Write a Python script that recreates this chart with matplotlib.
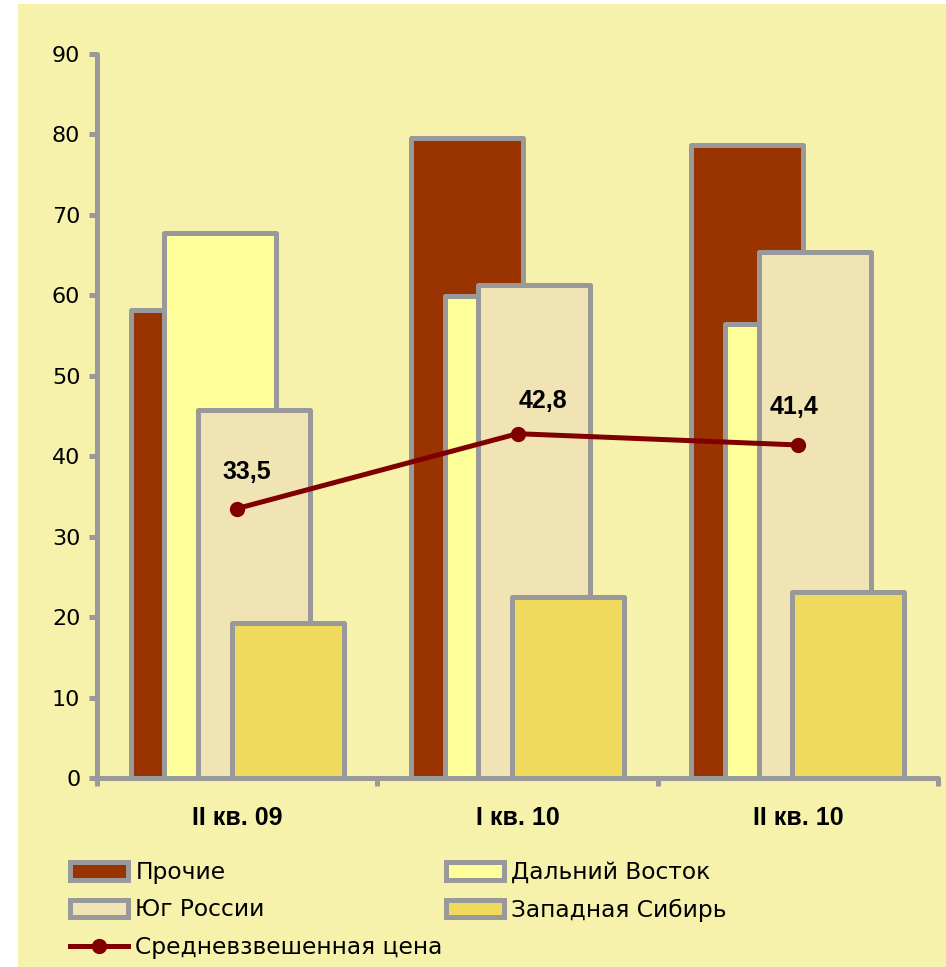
import matplotlib.pyplot as plt
import numpy as np
from matplotlib.patches import Rectangle

categories = ['II кв. 09', 'I кв. 10', 'II кв. 10']
series_names = ['Прочие', 'Дальний Восток', 'Юг России', 'Западная Сибирь']
prochie = [58.2, 79.6, 78.7]
dalniy_vostok = [67.7, 59.9, 56.4]
yug_rossii = [45.7, 61.3, 65.4]
zap_sibir = [19.3, 22.5, 23.1]
price = [33.5, 42.8, 41.4]
price_name = 'Средневзвешенная цена'

bg = '#F7F2AB'
edge = '#999999'
colors = ['#993300', '#FFFF99', '#F0E4B4', '#F0DA5E']

fig = plt.figure(figsize=(9.46, 9.67), dpi=100)
fig.patches.append(Rectangle((18 / 946, 0), 1, 1 - 4 / 967, transform=fig.transFigure,
                             facecolor=bg, edgecolor='none', zorder=-10))
ax = fig.add_axes([97 / 946, 1 - 778 / 967, (938 - 97) / 946, (778 - 54) / 967])
ax.set_facecolor('none')

x = np.arange(len(categories))
offsets = [-0.18, -0.06, 0.06, 0.18]
handles = []
for i, vals in enumerate([prochie, dalniy_vostok, yug_rossii, zap_sibir]):
    b = ax.bar(x + offsets[i], vals, width=0.40, color=colors[i], edgecolor=edge,
               linewidth=3.6, joinstyle='round', zorder=2 + i, label=series_names[i])
    handles.append(b)

ln, = ax.plot(x, price, color='#800000', lw=3.6, marker='o', markersize=10,
              zorder=10, label=price_name)
label_off = [(10, 37), (25, 33), (-4, 38)]
for xi, v, off in zip(x, price, label_off):
    ax.annotate(f'{v:.1f}'.replace('.', ','), (xi, v), xytext=off, textcoords='offset pixels',
                ha='center', va='center', fontsize=18, fontweight='bold',
                family='Liberation Sans', zorder=11)

ax.set_xlim(-0.5, 2.5)
ax.set_ylim(0, 90)
ax.set_yticks(np.arange(0, 91, 10))
ax.set_xticks(x)
ax.set_xticklabels(categories, fontsize=18, fontweight='bold', family='Liberation Sans')
ax.set_xticks([-0.5, 0.5, 1.5, 2.5], minor=True)
ax.tick_params(axis='x', which='major', length=0, pad=20)
ax.tick_params(axis='x', which='minor', length=6, width=3.6, color=edge, direction='out')
ax.tick_params(axis='y', length=6, width=3.6, color=edge, direction='out', labelsize=16, pad=6)
for s in ['top', 'right']:
    ax.spines[s].set_visible(False)
for s in ['left', 'bottom']:
    ax.spines[s].set_color(edge)
    ax.spines[s].set_linewidth(3.6)
    ax.spines[s].set_capstyle('round')
    ax.spines[s].set_zorder(20)

leg_kw = dict(loc='upper left', frameon=False, fontsize=16.8, handlelength=2.5,
              handleheight=0.77, handletextpad=0.3, labelspacing=0.62)
leg1 = fig.legend([handles[0], handles[2], ln], [series_names[0], series_names[2], price_name],
                  bbox_to_anchor=(49 / 946, 1 - 840 / 967), **leg_kw)
leg2 = fig.legend([handles[1], handles[3]], [series_names[1], series_names[3]],
                  bbox_to_anchor=(425 / 946, 1 - 840 / 967), **leg_kw)

fig.savefig('out.png', dpi=100, facecolor='white')
